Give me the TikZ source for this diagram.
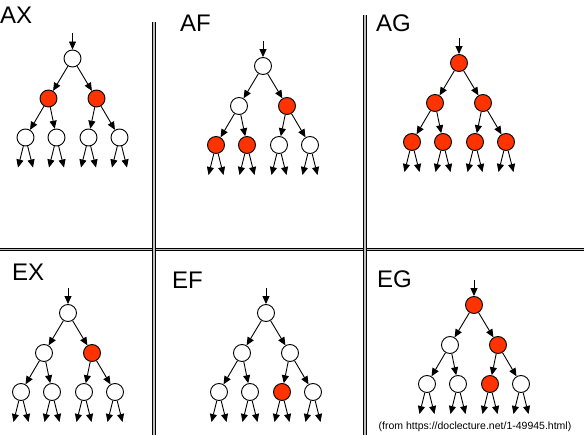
\documentclass[tikz,border=0pt]{standalone}
\usepackage{fontspec}
\setmainfont{Liberation Sans}
\usepackage{xcolor}
\usepackage{tikz}
\usetikzlibrary{arrows.meta, positioning, calc}

\definecolor{hitred}{RGB}{255,51,0}

% one binary search tree: #1 name, #2 root position, #3..#9 styles of the seven vertices
\newcommand{\searchtree}[9]{%
  \node (#1-0) [#3] at (#2) {};
  \node (#1-1) [#4] at ($(#1-0)+(-24,40)$) {};
  \node (#1-2) [#5] at ($(#1-0)+(24,40)$) {};
  \node (#1-3) [#6] at ($(#1-0)+(-47,79)$) {};
  \node (#1-4) [#7] at ($(#1-0)+(-16,79)$) {};
  \node (#1-5) [#8] at ($(#1-0)+(16,79)$) {};
  \node (#1-6) [#9] at ($(#1-0)+(47,79)$) {};
  \coordinate (#1-in) at ($(#1-0)+(0,-25)$);
  \draw[arrow] (#1-in) -- (#1-0);
  \draw[arrow] (#1-0) -- (#1-1);
  \draw[arrow] (#1-0) -- (#1-2);
  \draw[arrow] (#1-1) -- (#1-3);
  \draw[arrow] (#1-1) -- (#1-4);
  \draw[arrow] (#1-2) -- (#1-5);
  \draw[arrow] (#1-2) -- (#1-6);
  \foreach \k in {3,...,6} {
    \coordinate (#1-\k-a) at ($(#1-\k)+(-7.5,30)$);
    \coordinate (#1-\k-b) at ($(#1-\k)+(7.5,30)$);
    \draw[arrow] (#1-\k) -- (#1-\k-a);
    \draw[arrow] (#1-\k) -- (#1-\k-b);
  }%
}

\begin{document}
\begin{tikzpicture}[
  x=1pt, y=-1pt,
  vtx/.style={circle, draw, line width=0.9pt, minimum size=17pt,
    inner sep=0pt, fill=white},
  hit/.style={vtx, fill=hitred},
  arrow/.style={-{Triangle[length=8pt, width=7pt]}, line width=0.9pt},
  divider/.style={draw=black, line width=1pt, double=gray!50,
    double distance=1.8pt},
  lbl/.style={font=\fontsize{24}{24}\selectfont, inner sep=0pt,
    anchor=base west}
]
\useasboundingbox (0,0) rectangle (584,435);

% panel borders
\coordinate (div-l-top) at (154,22);
\coordinate (div-l-bot) at (154,435);
\coordinate (div-r-top) at (365,15);
\coordinate (div-r-bot) at (365,435);
\coordinate (div-h-w)   at (0,249.5);
\coordinate (div-h-e)   at (584,249.5);
\draw[divider] (div-h-w) -- (div-h-e);
\draw[divider] (div-l-top) -- (div-l-bot);
\draw[divider] (div-r-top) -- (div-r-bot);

% panel titles
\node (ax-lbl) [lbl] at (0,24)    {AX};
\node (af-lbl) [lbl] at (180,32)  {AF};
\node (ag-lbl) [lbl] at (376,32)  {AG};
\node (ex-lbl) [lbl] at (12,281)  {EX};
\node (ef-lbl) [lbl] at (172,289) {EF};
\node (eg-lbl) [lbl] at (377,288) {EG};

% trees
\searchtree{AX}{72.5,58.5}{vtx}{hit}{hit}{vtx}{vtx}{vtx}{vtx}
\searchtree{AF}{263,66}{vtx}{vtx}{hit}{hit}{hit}{vtx}{vtx}
\searchtree{AG}{459,63}{hit}{hit}{hit}{hit}{hit}{hit}{hit}
\searchtree{EX}{68,313}{vtx}{vtx}{hit}{vtx}{vtx}{vtx}{vtx}
\searchtree{EF}{266,313}{vtx}{vtx}{vtx}{vtx}{vtx}{hit}{vtx}
\searchtree{EG}{474,305}{hit}{vtx}{hit}{vtx}{vtx}{hit}{vtx}

\node (source) [font=\fontsize{10.5}{10.5}\selectfont, inner sep=0pt]
  at (475,427) {(from https://doclecture.net/1-49945.html)};

\end{tikzpicture}
\end{document}
